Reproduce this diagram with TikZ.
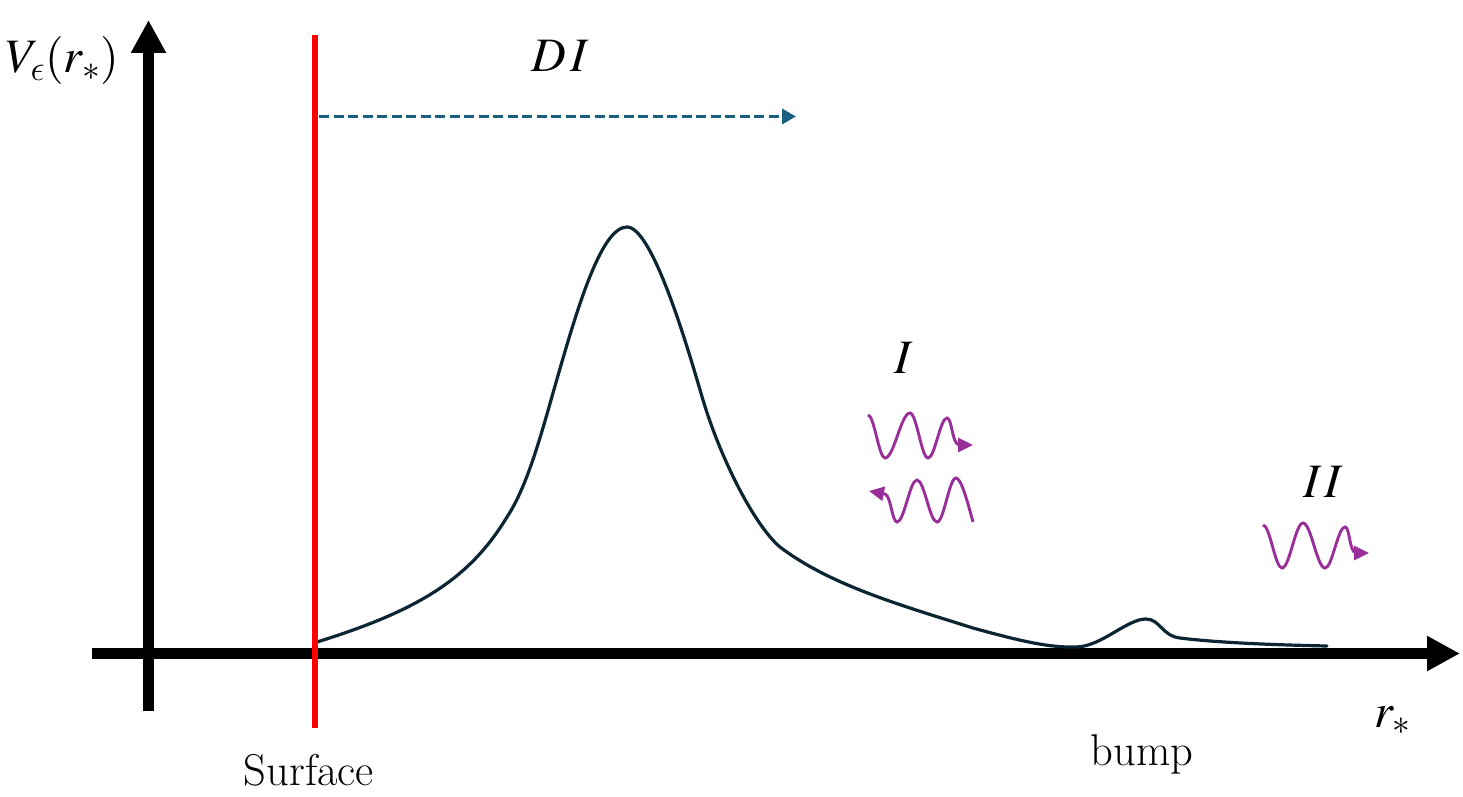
\RequirePackage{fix-cm}
\documentclass[tikz,border=0pt]{standalone}
\usepackage{mathptmx}
\DeclareSymbolFont{cmletters}{OML}{cmm}{m}{it}
\DeclareMathSymbol{\lunateeps}{\mathord}{cmletters}{"0F}
\usetikzlibrary{arrows.meta}
\definecolor{curvecol}{HTML}{0B2533}
\definecolor{dashcol}{HTML}{1B5F7E}
\definecolor{wavecol}{HTML}{9A2E9A}
\definecolor{surfred}{HTML}{FF0000}
\tikzset{
  axisline/.style={line width=11pt, -{Triangle[length=33pt,width=33pt]}},
  potline/.style={curvecol, line width=3.2pt, line cap=round},
  wavepath/.style={wavecol, line width=2.9pt, -{Triangle[length=15pt,width=14pt]}},
  label/.style={inner sep=0pt, anchor=base},
  mathlab/.style={label, font=\fontsize{48}{56}\selectfont},
  textlab/.style={label, font=\fontsize{44.5}{50}\selectfont},
}
\begin{document}
\begin{tikzpicture}[x=1pt,y=-1pt]
\useasboundingbox (0,0) rectangle (1463,797);
% axes
\coordinate (yb) at (148.5,711);
\coordinate (yt) at (148.5,20);
\coordinate (xl) at (92,653.5);
\coordinate (xr) at (1460,653.5);
\draw[axisline] (yb) -- (yt);
\draw[axisline] (xl) -- (xr);
% potential curve
\coordinate (c0) at (317,642);
\coordinate (cend) at (1327,646);
\draw[potline] (c0)
  .. controls (420,610) and (470,578) .. (507,517)
  .. controls (527,487) and (541,435) .. (553,393)
  .. controls (575,316) and (600,227) .. (627,227)
  .. controls (654,227) and (692,363) .. (703,400)
  .. controls (721,460) and (755,526) .. (780,547)
  .. controls (830,585) and (900,605) .. (973,628)
  .. controls (1020,641) and (1050,648) .. (1077,647)
  .. controls (1102,646) and (1127,619) .. (1146,619)
  .. controls (1160,619) and (1162,636) .. (1180,638)
  .. controls (1220,643) and (1280,645) .. (cend);
% surface
\coordinate (st) at (315,35);
\coordinate (sb) at (315,728);
\draw[surfred, line width=5.5pt] (st) -- (sb);
% DI arrow
\coordinate (da) at (319,116.5);
\coordinate (db) at (796,116.5);
\draw[dashcol, line width=3.8pt, dash pattern=on 10pt off 4.5pt,
  -{Triangle[length=14pt,width=15pt]}] (da) -- (db);
% labels
\node[mathlab, anchor=base west] (vlab) at (6,73) {$V_{\lunateeps}(r_{*})$};
\node[mathlab] (dilab) at (560,72) {$D\kern4pt I$};
\node[mathlab] (ilab) at (904,373) {$I$};
\node[mathlab] (iilab) at (1323,497) {$I\kern3pt I$};
\node[mathlab, anchor=base west] (rlab) at (1374,727) {$r_{*}$};
\node[textlab] (surf) at (309,785) {Surface};
\node[textlab] (bump) at (1142,765) {bump};
% waves
\draw[wavepath] (868,415) cos (876.5,436.5) sin (885,458) cos (897.5,435.5)
  sin (910,413) cos (919,435.5) sin (928,458) cos (937.5,438) sin (947,418)
  .. controls (952,418) and (952,444) .. (959,445) -- (973,445);
\draw[wavepath] (973,522) .. controls (967,500) and (961,478) .. (956,478)
  cos (946.5,500) sin (937,522) cos (927,501) sin (917,480) cos (907,501)
  sin (897,522) .. controls (892,522) and (891,496) .. (885,494) -- (869,491);
\draw[wavepath] (1263,525) cos (1272.5,546.5) sin (1282,568) cos (1292.5,545.5)
  sin (1303,523) cos (1314,545.5) sin (1325,568) cos (1335,547.5) sin (1345,527)
  .. controls (1350,527) and (1349,552) .. (1356,553) -- (1369,553);
\end{tikzpicture}
\end{document}
